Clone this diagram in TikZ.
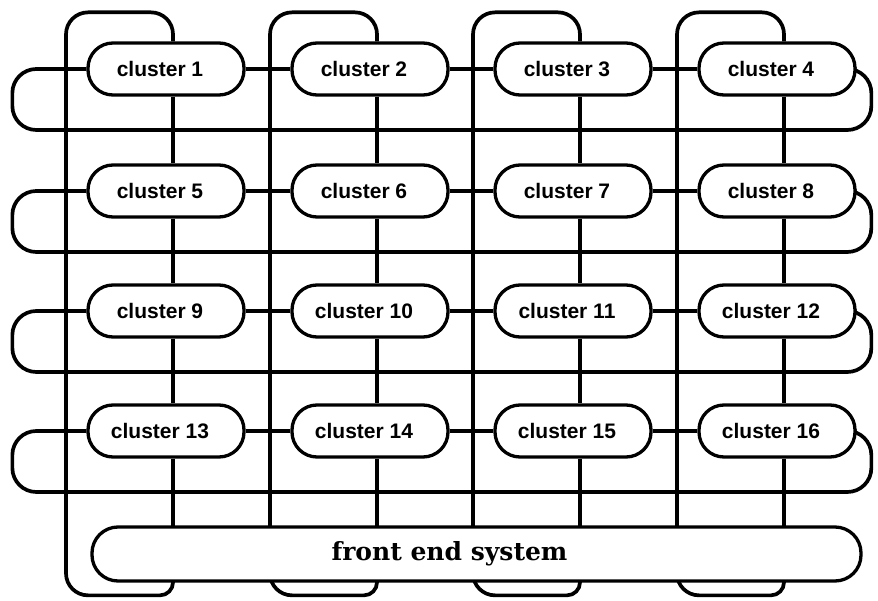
\documentclass[tikz,border=0pt]{standalone}
\usepackage{fontspec}
\newfontfamily\clfont{Liberation Sans}
\newfontfamily\fefont{DejaVu Serif}
\usetikzlibrary{backgrounds}
\begin{document}
\begin{tikzpicture}[x=1pt,y=-1pt,
  wire/.style={line width=3.7pt},
  cnode/.style={draw, line width=3.3pt, fill=white, rounded corners=25pt,
    minimum width=156pt, minimum height=52pt, inner sep=0pt,
    font=\clfont\bfseries\fontsize{21}{21}\selectfont},
  fenode/.style={draw, line width=3.3pt, fill=white, rounded corners=26pt,
    minimum width=769pt, minimum height=54pt, inner sep=0pt,
    font=\fefont\bfseries\fontsize{25}{25}\selectfont}]
\useasboundingbox (0,0) rectangle (878,601);
\newcommand\cltext[1]{cluster #1\kern12pt}
% clusters
\node[cnode] (c1)  at (166,69)  {\cltext{1}};
\node[cnode] (c2)  at (370,69)  {\cltext{2}};
\node[cnode] (c3)  at (573,69)  {\cltext{3}};
\node[cnode] (c4)  at (777,69)  {\cltext{4}};
\node[cnode] (c5)  at (166,191) {\cltext{5}};
\node[cnode] (c6)  at (370,191) {\cltext{6}};
\node[cnode] (c7)  at (573,191) {\cltext{7}};
\node[cnode] (c8)  at (777,191) {\cltext{8}};
\node[cnode] (c9)  at (166,311) {\cltext{9}};
\node[cnode] (c10) at (370,311) {\cltext{10}};
\node[cnode] (c11) at (573,311) {\cltext{11}};
\node[cnode] (c12) at (777,311) {\cltext{12}};
\node[cnode] (c13) at (166,431) {\cltext{13}};
\node[cnode] (c14) at (370,431) {\cltext{14}};
\node[cnode] (c15) at (573,431) {\cltext{15}};
\node[cnode] (c16) at (777,431) {\cltext{16}};
\node[fenode] (fe) at (476.5,554) {front end system\kern54pt};
\begin{scope}[on background layer]
% row links
\foreach \a/\b in {1/2,2/3,3/4,5/6,6/7,7/8,9/10,10/11,11/12,13/14,14/15,15/16}
  \draw[wire] (c\a.east) -- (c\b.west);
% row wrap-around rings
\foreach \a/\b in {1/4,5/8,9/12,13/16}
  \draw[wire, rounded corners=24pt] (c\a.west) -| ++(-74,61) -| ++(859,-61) -- (c\b.east);
% column links
\foreach \a/\b in {1/5,5/9,9/13,2/6,6/10,10/14,3/7,7/11,11/15,4/8,8/12,12/16}
  \draw[wire] ([xshift=7pt]c\a.south) -- ([xshift=7pt]c\b.north);
% row 4 to front end
\foreach \a in {13,14,15,16}
  \draw[wire] ([xshift=7pt]c\a.south) -- ++(0,75);
% column wrap-around rings
\foreach \a in {1,2,3,4}
  \draw[wire, rounded corners=22pt] ([xshift=7pt]c\a.north) -- ++(0,-29) -| ++(-107,583)
    [rounded corners=13pt] -| ++(107,-22);
\end{scope}
\end{tikzpicture}
\end{document}
